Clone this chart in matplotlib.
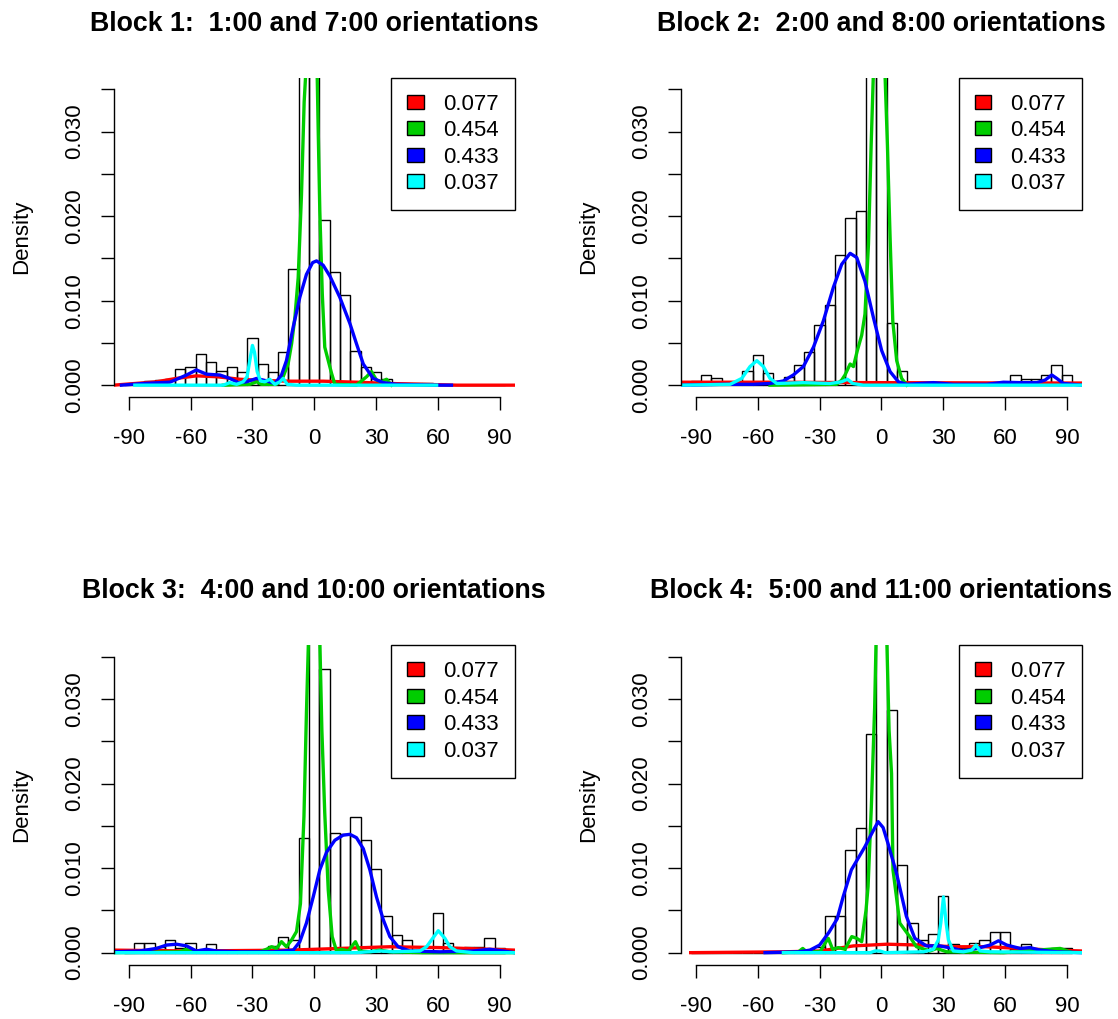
import matplotlib
matplotlib.use("Agg")
import matplotlib.pyplot as plt
from matplotlib.patches import Patch

plt.rcParams['font.family'] = ['Liberation Sans', 'DejaVu Sans']

titles = ["Block 1:  1:00 and 7:00 orientations",
          "Block 2:  2:00 and 8:00 orientations",
          "Block 3:  4:00 and 10:00 orientations",
          "Block 4:  5:00 and 11:00 orientations"]
weights = ["0.077", "0.454", "0.433", "0.037"]
colors = ["#FF0000", "#00CD00", "#0000FF", "#00FFFF"]

# histogram bins (5 degree wide, centred on multiples of 5)
bin_centers = list(range(-90, 91, 5))

hist1 = [0, 0.0002, 0.0005, 0.0006, 0.0007, 0.0019, 0.0022, 0.0037, 0.0027, 0.0017,
         0.0022, 0.0015, 0.0056, 0.0025, 0.0015, 0.0039, 0.0137, 0.055, 0.048, 0.0196,
         0.0134, 0.0107, 0.0041, 0.0022, 0.0016, 0.0007, 0.0002, 0.0002, 0.0002, 0.0003,
         0, 0, 0, 0, 0, 0, 0]
hist2 = [0.0005, 0.0012, 0.0009, 0, 0, 0.0017, 0.0036, 0.0014, 0.0002, 0.0010,
         0.0024, 0.0039, 0.0071, 0.0095, 0.0154, 0.0198, 0.0206, 0.050, 0.045, 0.0073,
         0.0017, 0.0001, 0.0002, 0.0003, 0.0001, 0, 0, 0, 0, 0.0001,
         0.0002, 0.0012, 0.0007, 0.0007, 0.0012, 0.0024, 0.0012]
hist3 = [0, 0.0012, 0.0012, 0.0007, 0.0015, 0.0005, 0.0012, 0.0002, 0.0010, 0.0002,
         0.0001, 0.0001, 0.0001, 0.0002, 0.0008, 0.0018, 0.0015, 0.0136, 0.050, 0.0336,
         0.0141, 0.0140, 0.0161, 0.0133, 0.0099, 0.0043, 0.0021, 0.0015, 0.0003, 0.0002,
         0.0047, 0.0012, 0.0003, 0.0007, 0.0007, 0.0017, 0.0005]
hist4 = [0, 0, 0, 0, 0, 0, 0, 0, 0, 0.0002,
         0.0002, 0.0002, 0.0007, 0.0043, 0.0043, 0.0121, 0.0148, 0.0259, 0.045, 0.0287,
         0.0104, 0.0035, 0.0015, 0.0022, 0.0067, 0.0010, 0.0005, 0.0012, 0.0015, 0.0025,
         0.0025, 0.0004, 0.0010, 0.0003, 0.0002, 0.0005, 0.0005]

# component density curves (angle, density)
b1_red = [(-97.3, 0.0), (-76.6, 0.0004), (-66.9, 0.0008), (-57.2, 0.0011), (-47.4, 0.0010),
          (-36.1, 0.0007), (-24.8, 0.00055), (-11.8, 0.00047), (4.3, 0.00047), (20.5, 0.00035),
          (36.7, 0.0002), (52.9, 0.0001), (69.1, 0.0), (97.4, 0.0)]
b1_green = [(-44.2, 0.0), (-31.3, 0.0001), (-28.0, 0.0004), (-25.6, 0.0001), (-18.3, 0.0001),
            (-15.1, 0.0010), (-12.7, 0.0025), (-11.0, 0.0049), (-9.4, 0.0080), (-7.8, 0.0127),
            (-6.2, 0.0225), (-4.9, 0.0335), (-4.1, 0.037), (-1.3, 0.08), (1.4, 0.037),
            (1.9, 0.0304), (2.7, 0.0206), (3.9, 0.0108), (5.1, 0.0045), (6.8, 0.0029),
            (8.4, 0.0014), (10.0, 0.0001), (20.5, 0.0), (25.4, 0.0010), (27.8, 0.0016),
            (30.2, 0.0006), (32.7, 0.0004), (35.1, 0.0007), (37.5, 0.0)]
b1_blue = [(-93.6, 0.0), (-83.0, 0.0002), (-70.1, 0.00035), (-62.0, 0.0012), (-57.2, 0.0018),
           (-52.3, 0.0013), (-45.8, 0.0012), (-41.0, 0.0008), (-36.9, 0.0003), (-32.9, 0.0004),
           (-28.0, 0.0008), (-23.2, 0.0005), (-19.1, 0.0002), (-15.9, 0.0012), (-13.5, 0.0029),
           (-10.2, 0.0069), (-7.0, 0.0104), (-3.8, 0.0131), (-0.8, 0.0145), (1.1, 0.0147),
           (4.3, 0.0142), (7.6, 0.0129), (12.4, 0.0104), (17.3, 0.0073), (20.5, 0.0049),
           (23.8, 0.0025), (28.6, 0.0008), (33.5, 0.0003), (39.9, 0.0001), (59.4, 0.0),
           (66.6, 0.0)]
b1_cyan = [(-87.1, 0.0), (-44.2, 0.0), (-41.0, 0.0003), (-37.7, 0.0001), (-34.5, 0.0004),
           (-32.6, 0.0010), (-31.3, 0.0029), (-30.0, 0.0047), (-29.0, 0.0039), (-27.7, 0.0016),
           (-26.1, 0.0005), (-24.0, 0.0004), (-21.6, 0.0007), (-19.1, 0.0001), (-16.7, 0.0004),
           (-15.1, 0.0008), (-13.1, 0.0001), (-8.6, 0.0), (59.4, 0.0)]

b2_red = [(-97.0, 0.00035), (-54.1, 0.00035), (-5.5, 0.0003), (50.0, 0.00027), (97.2, 0.00025)]
b2_green = [(-54.1, 0.0), (-21.7, 0.0001), (-19.3, 0.0006), (-17.7, 0.0012), (-15.2, 0.0025),
            (-13.6, 0.0022), (-11.7, 0.0041), (-9.6, 0.0059), (-8.0, 0.0084), (-6.3, 0.0167),
            (-5.0, 0.0284), (-3.9, 0.037), (-1.2, 0.08), (1.7, 0.037), (2.9, 0.0284),
            (4.2, 0.0174), (5.5, 0.0076), (7.4, 0.0029), (9.8, 0.0008), (12.3, 0.0)]
b2_blue = [(-97.0, 0.0), (-78.3, 0.0001), (-62.2, 0.0001), (-54.1, 0.0002), (-47.6, 0.0005),
           (-42.8, 0.0012), (-37.9, 0.0022), (-33.0, 0.0045), (-28.2, 0.0076), (-23.3, 0.0116),
           (-19.3, 0.0143), (-15.2, 0.0156), (-12.0, 0.0151), (-8.0, 0.0123), (-3.9, 0.0080),
           (0.1, 0.0041), (4.2, 0.0016), (8.2, 0.0004), (12.3, 0.0001), (25.2, 0.0003),
           (34.9, 0.0001), (51.1, 0.0001), (59.2, 0.00035), (67.3, 0.0003), (75.4, 0.0003),
           (79.4, 0.0006), (82.7, 0.0012), (85.1, 0.0008), (88.3, 0.0002), (97.2, 0.0)]
b2_cyan = [(-97.0, 0.0), (-73.5, 0.0001), (-67.8, 0.0008), (-63.8, 0.0022), (-60.5, 0.0029),
           (-57.3, 0.0022), (-54.1, 0.0008), (-50.8, 0.0002), (-37.9, 0.0003), (-25.0, 0.0002),
           (-19.3, 0.0004), (-16.5, 0.0007), (-13.9, 0.0002), (-8.8, 0.0), (97.2, 0.0)]

b3_red = [(-97.3, 0.0003), (-60.4, 0.0002), (-11.8, 0.0003), (12.4, 0.0005), (36.7, 0.0007),
          (61.0, 0.0006), (97.4, 0.0003)]
b3_green = [(-97.3, 0.0), (-65.2, 0.0001), (-62.0, 0.0004), (-58.8, 0.0001), (-26.4, 0.0001),
            (-23.2, 0.0004), (-20.7, 0.0007), (-18.3, 0.0005), (-15.9, 0.0013), (-13.5, 0.0007),
            (-11.0, 0.0015), (-8.6, 0.0025), (-6.7, 0.0058), (-5.0, 0.0161), (-3.8, 0.0283),
            (-2.8, 0.037), (0.0, 0.08), (2.7, 0.037), (3.7, 0.0263), (5.1, 0.0165),
            (6.8, 0.0074), (8.7, 0.0019), (10.8, 0.0002), (13.2, 0.0004), (16.5, 0.0002),
            (20.0, 0.0013), (22.1, 0.0002), (27.0, 0.0001), (31.8, 0.0003), (36.7, 0.0001),
            (52.9, 0.0), (97.4, 0.0)]
b3_blue = [(-97.3, 0.0001), (-84.7, 0.0002), (-76.6, 0.0005), (-71.7, 0.0009), (-66.9, 0.0010),
           (-62.0, 0.0008), (-57.2, 0.0002), (-52.3, 0.0004), (-47.4, 0.0002), (-36.1, 0.0001),
           (-19.9, 0.0001), (-10.2, 0.0003), (-7.0, 0.0013), (-3.8, 0.0035), (-0.5, 0.0066),
           (2.7, 0.0098), (6.0, 0.0119), (10.0, 0.0133), (14.0, 0.0139), (17.3, 0.0140),
           (20.5, 0.0136), (23.8, 0.0123), (27.0, 0.0098), (30.2, 0.0066), (33.5, 0.0039),
           (36.7, 0.0019), (40.7, 0.0007), (46.4, 0.0002), (61.0, 0.0001), (77.2, 0.0002),
           (85.2, 0.0004), (91.7, 0.0002), (97.4, 0.0)]
b3_cyan = [(-97.3, 0.0), (20.5, 0.0), (31.8, 0.0002), (38.3, 0.0001), (51.3, 0.0002),
           (54.5, 0.0007), (56.9, 0.0015), (60.2, 0.0026), (63.4, 0.0017), (65.8, 0.0007),
           (69.1, 0.0002), (77.2, 0.0), (97.4, 0.0)]

b4_red = [(-92.6, 0.0), (-47.6, 0.0001), (-29.8, 0.0002), (-13.6, 0.0008), (2.6, 0.0010),
          (18.7, 0.0009), (34.9, 0.0007), (51.1, 0.0007), (67.3, 0.0005), (83.5, 0.0003),
          (97.2, 0.0002)]
b4_green = [(-47.6, 0.0), (-40.3, 0.0001), (-38.2, 0.0005), (-36.3, 0.0001), (-29.8, 0.0001),
            (-27.4, 0.0011), (-25.8, 0.0017), (-23.7, 0.0004), (-20.9, 0.0006), (-17.7, 0.0004),
            (-14.4, 0.0019), (-12.0, 0.0017), (-9.6, 0.0013), (-7.5, 0.0050), (-6.5, 0.0078),
            (-4.9, 0.0173), (-3.3, 0.0290), (-2.6, 0.037), (0.0, 0.08), (2.6, 0.037),
            (3.7, 0.0263), (4.9, 0.0212), (5.6, 0.0098), (8.9, 0.0035), (13.7, 0.0019),
            (17.0, 0.0007), (23.6, 0.0002), (26.8, 0.0005), (31.7, 0.0001), (59.2, 0.0),
            (86.7, 0.0005), (91.6, 0.0001)]
b4_blue = [(-56.5, 0.0), (-40.0, 0.0001), (-34.7, 0.0003), (-30.0, 0.0009), (-25.5, 0.0024),
           (-21.5, 0.0040), (-18.6, 0.0066), (-14.6, 0.0098), (-11.0, 0.0113), (-8.1, 0.0125),
           (-4.5, 0.0142), (-1.6, 0.0155), (0.8, 0.0148), (3.2, 0.0129), (7.3, 0.0094),
           (12.1, 0.0043), (16.2, 0.0017), (21.8, 0.0008), (28.3, 0.0008), (34.9, 0.0005),
           (39.8, 0.0002), (46.2, 0.0005), (52.7, 0.0009), (56.8, 0.0014), (60.8, 0.0009),
           (67.3, 0.0005), (72.1, 0.0006), (77.0, 0.0003), (85.1, 0.0001), (97.2, 0.0)]
b4_cyan = [(-47.6, 0.0), (-5.5, 0.0), (-3.1, 0.0002), (-0.7, 0.0002), (1.7, 0.0), (20.4, 0.0001),
           (25.2, 0.0004), (27.6, 0.0015), (28.8, 0.0035), (30.1, 0.0066), (31.4, 0.0035),
           (32.5, 0.0015), (34.9, 0.0002), (39.8, 0.0001), (43.8, 0.0003), (45.9, 0.0009),
           (47.9, 0.0002), (52.7, 0.0001), (97.2, 0.0)]

hists = [hist1, hist2, hist3, hist4]
curves = [[b1_red, b1_green, b1_blue, b1_cyan],
          [b2_red, b2_green, b2_blue, b2_cyan],
          [b3_red, b3_green, b3_blue, b3_cyan],
          [b4_red, b4_green, b4_blue, b4_cyan]]

W, H = 1118, 1019
fig = plt.figure(figsize=(W / 100, H / 100), dpi=100)

# axes boxes in pixels: left, top
boxes = [(114, 77.5), (681.2, 77.5), (114, 645), (681.2, 645)]
aw, ah = 400.5, 319.5

yt = [0.0, 0.005, 0.010, 0.015, 0.020, 0.025, 0.030, 0.035]
ytl = ["0.000", "", "0.010", "", "0.020", "", "0.030", ""]
xt = [-90, -60, -30, 0, 30, 60, 90]

for i in range(4):
    left, top = boxes[i]
    ax = fig.add_axes([left / W, (H - top - ah) / H, aw / W, ah / H])
    ax.bar(bin_centers, hists[i], width=5, fill=False, edgecolor="black", linewidth=1.0)
    for pts, c in zip(curves[i], colors):
        ax.plot([p[0] for p in pts], [p[1] for p in pts], color=c, lw=2.4,
                solid_joinstyle="round")
    ax.set_xlim(-97.2, 97.2)
    ax.set_ylim(-0.0014, 0.0364)
    for s in ["top", "right"]:
        ax.spines[s].set_visible(False)
    ax.spines["left"].set_bounds(0, 0.035)
    ax.spines["bottom"].set_bounds(-90, 90)
    ax.spines["left"].set_linewidth(1.0)
    ax.spines["bottom"].set_linewidth(1.0)
    ax.set_xticks(xt)
    ax.set_xticklabels([str(v) for v in xt])
    ax.set_yticks(yt)
    ax.set_yticklabels(ytl, rotation=90, va="center")
    ax.tick_params(direction="out", length=9.6, width=1.0, labelsize=16)
    ax.tick_params(axis="x", pad=13)
    ax.tick_params(axis="y", pad=11)
    ax.set_ylabel("Density", fontsize=16)
    ax.yaxis.label.set_va("center")
    ax.yaxis.set_label_coords((21.7 - 114) / aw, 0.5)
    ax.set_title(titles[i], fontsize=19.3, fontweight="bold", y=1 + 46.5 / ah, pad=0)

    handles = [Patch(facecolor=c, edgecolor="black", linewidth=1.0) for c in colors]
    leg = ax.legend(handles, weights, loc="upper right", fontsize=16, frameon=True,
                    fancybox=False, framealpha=1, edgecolor="black", borderaxespad=0,
                    borderpad=0.72, labelspacing=0.25, handlelength=0.75, handleheight=0.6,
                    handletextpad=0.85)
    leg.get_frame().set_linewidth(1.0)

fig.savefig("out.png", dpi=100)
